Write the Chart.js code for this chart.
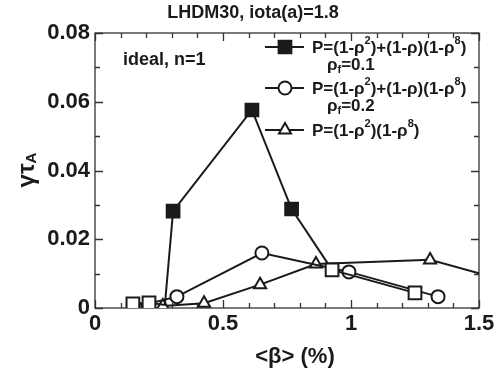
<!DOCTYPE html>
<html>
<head>
<meta charset="utf-8">
<script src="https://cdn.jsdelivr.net/npm/chart.js@4.4.1/dist/chart.umd.min.js"></script>
<style>
html,body{margin:0;padding:0;background:#fff;}
#wrap{width:504px;height:371px;position:relative;}
</style>
</head>
<body>
<div id="wrap"><canvas id="c" width="504" height="371"></canvas></div>
<script>
// ---- data ----
const titleText = 'LHDM30, iota(a)=1.8';
const noteText = 'ideal, n=1';
const xTitle = '<β> (%)';

// squares series (ρf = 0.1): filled = unstable, open = marked open
const sqX = [0.148, 0.211, 0.273, 0.305, 0.613, 0.768, 0.926, 1.25];
const sqY = [0.0012, 0.0015, 0.0009, 0.0282, 0.0576, 0.0288, 0.0111, 0.0044];
const sqKind = ['open', 'open', 'none', 'filled', 'filled', 'filled', 'open', 'open'];

// circles series (ρf = 0.2)
const ciX = [0.156, 0.32, 0.652, 0.992, 1.34];
const ciY = [0.0003, 0.0033, 0.016, 0.0105, 0.0033];

// triangles series
const trX = [0.265, 0.426, 0.645, 0.863, 1.309, 1.5];
const trY = [0.0006, 0.0014, 0.0068, 0.0128, 0.014, 0.0101];
const trKind = ['open', 'open', 'open', 'open', 'open', 'none'];

const xTicks = [0, 0.5, 1, 1.5];
const yTicks = [0, 0.02, 0.04, 0.06, 0.08];

const FONT = 'Arial, "Liberation Sans", sans-serif';
const INK = '#1a1a1a';

function pts(xs, ys) { return xs.map((x, i) => ({x: x, y: ys[i]})); }

const legendItems = [
  {style: 'rect', fill: INK, radius: 9,
   line1: [['P=(1-ρ'], ['2', 1], [')+(1-ρ)(1-ρ'], ['8', 1], [')']],
   line2: [['ρ'], ['f', -1], ['=0.1']]},
  {style: 'circle', fill: '#fff', radius: 6.5,
   line1: [['P=(1-ρ'], ['2', 1], [')+(1-ρ)(1-ρ'], ['8', 1], [')']],
   line2: [['ρ'], ['f', -1], ['=0.2']]},
  {style: 'triangle', fill: '#fff', radius: 7,
   line1: [['P=(1-ρ'], ['2', 1], [')(1-ρ'], ['8', 1], [')']],
   line2: null}
];

function drawRich(ctx, parts, x, y, size) {
  let cx = x;
  ctx.textBaseline = 'middle';
  ctx.textAlign = 'left';
  for (const p of parts) {
    const t = p[0], mode = p[1] || 0;
    if (mode === 0) {
      ctx.font = 'bold ' + size + 'px ' + FONT;
      ctx.fillText(t, cx, y);
    } else if (mode === 1) {
      ctx.font = 'bold ' + Math.round(size * 0.66) + 'px ' + FONT;
      ctx.fillText(t, cx, y - size * 0.4);
    } else {
      ctx.font = 'bold ' + Math.round(size * 0.66) + 'px ' + FONT;
      ctx.fillText(t, cx, y + size * 0.3);
    }
    cx += ctx.measureText(t).width;
  }
  return cx;
}

const decor = {
  id: 'decor',
  beforeDatasetsDraw(chart) {
    const ctx = chart.ctx, a = chart.chartArea;
    const xs = chart.scales.x, ys = chart.scales.y;
    ctx.save();
    ctx.strokeStyle = '#333';
    ctx.lineWidth = 1.3;
    ctx.strokeRect(a.left, a.top, a.right - a.left, a.bottom - a.top);
    ctx.beginPath();
    for (let i = 0; i <= 15; i++) {
      const v = i / 10;
      const px = Math.round(xs.getPixelForValue(v)) + 0.5;
      const len = (i % 5 === 0) ? 8 : 5;
      ctx.moveTo(px, a.bottom); ctx.lineTo(px, a.bottom - len);
      ctx.moveTo(px, a.top); ctx.lineTo(px, a.top + len);
    }
    for (let i = 0; i <= 8; i++) {
      const v = i / 100;
      const py = Math.round(ys.getPixelForValue(v)) + 0.5;
      const len = (i % 2 === 0) ? 8 : 5;
      ctx.moveTo(a.left, py); ctx.lineTo(a.left + len, py);
      ctx.moveTo(a.right, py); ctx.lineTo(a.right - len, py);
    }
    ctx.stroke();
    ctx.restore();
  },
  afterDraw(chart) {
    const ctx = chart.ctx;
    ctx.save();
    ctx.fillStyle = INK;
    ctx.font = 'bold 18px ' + FONT;
    ctx.textAlign = 'center';
    ctx.textBaseline = 'middle';
    ctx.fillText(titleText, 253, 13);
    ctx.textAlign = 'left';
    ctx.fillText(noteText, 123, 60);
    ctx.font = 'bold 22px ' + FONT;
    ctx.textAlign = 'center';
    ctx.fillText(xTitle, 295, 357);
    // y title: γτ_A rotated
    ctx.translate(27, 170);
    ctx.rotate(-Math.PI / 2);
    ctx.font = 'bold 24px ' + FONT;
    const w1 = ctx.measureText('γτ').width;
    ctx.font = 'bold 15px ' + FONT;
    const w2 = ctx.measureText('A').width;
    const start = -(w1 + w2) / 2;
    ctx.font = 'bold 24px ' + FONT;
    ctx.textAlign = 'left';
    ctx.fillText('γτ', start, 0);
    ctx.font = 'bold 15px ' + FONT;
    ctx.fillText('A', start + w1, 5);
    ctx.setTransform(1, 0, 0, 1, 0, 0);
    // legend
    const rowY = [47, 88, 130];
    const subY = [65, 106];
    legendItems.forEach((it, i) => {
      const y = rowY[i];
      ctx.strokeStyle = INK;
      ctx.lineWidth = 2;
      ctx.beginPath();
      ctx.moveTo(265, y); ctx.lineTo(304, y);
      ctx.stroke();
      ctx.fillStyle = it.fill;
      Chart.helpers.drawPoint(ctx, {pointStyle: it.style, rotation: 0, borderWidth: 2, radius: it.radius}, 285, y);
      ctx.fillStyle = INK;
      drawRich(ctx, it.line1, 312, y + 1, 17);
      if (it.line2) drawRich(ctx, it.line2, 327, subY[i], 17);
    });
    ctx.restore();
  }
};

new Chart(document.getElementById('c'), {
  type: 'scatter',
  data: {
    datasets: [
      {
        label: 'P=(1-ρ2)+(1-ρ)(1-ρ8) ρf=0.1',
        data: pts(sqX, sqY),
        showLine: true,
        borderColor: INK, borderWidth: 2,
        pointStyle: 'rect',
        pointRadius: sqKind.map(k => k === 'none' ? 0 : 9),
        pointBackgroundColor: sqKind.map(k => k === 'filled' ? INK : '#fff'),
        pointBorderColor: INK, pointBorderWidth: 2,
        pointHoverRadius: 9
      },
      {
        label: 'P=(1-ρ2)+(1-ρ)(1-ρ8) ρf=0.2',
        data: pts(ciX, ciY),
        showLine: true,
        borderColor: INK, borderWidth: 2,
        pointStyle: 'circle', pointRadius: 6.5,
        pointBackgroundColor: '#fff', pointBorderColor: INK, pointBorderWidth: 2
      },
      {
        label: 'P=(1-ρ2)(1-ρ8)',
        data: pts(trX, trY),
        showLine: true,
        borderColor: INK, borderWidth: 2,
        pointStyle: 'triangle',
        pointRadius: trKind.map(k => k === 'none' ? 0 : 7),
        pointBackgroundColor: '#fff', pointBorderColor: INK, pointBorderWidth: 2
      }
    ]
  },
  options: {
    responsive: false,
    animation: false,
    events: [],
    layout: {padding: {top: 33, right: 25, left: 0, bottom: 0}},
    plugins: {legend: {display: false}, title: {display: false}, tooltip: {enabled: false}},
    scales: {
      x: {
        type: 'linear', min: 0, max: 1.5,
        afterBuildTicks: s => { s.ticks = xTicks.map(v => ({value: v})); },
        afterFit: s => { s.height = 63; },
        ticks: {
          font: {family: FONT, size: 22, weight: 'bold'}, color: INK, padding: 3,
          maxRotation: 0, autoSkip: false,
          callback: v => String(v)
        },
        grid: {display: false, drawTicks: false},
        border: {display: false}
      },
      y: {
        type: 'linear', min: 0, max: 0.08,
        afterBuildTicks: s => { s.ticks = yTicks.map(v => ({value: v})); },
        afterFit: s => { s.width = 95; },
        ticks: {
          font: {family: FONT, size: 22, weight: 'bold'}, color: INK, padding: 5,
          autoSkip: false,
          callback: v => v === 0 ? '0' : v.toFixed(2)
        },
        grid: {display: false, drawTicks: false},
        border: {display: false}
      }
    }
  },
  plugins: [decor]
});
</script>
</body>
</html>
